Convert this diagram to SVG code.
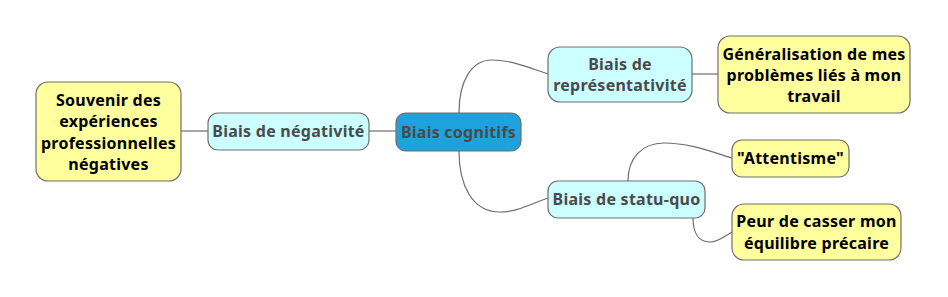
<svg xmlns="http://www.w3.org/2000/svg" width="948" height="297" viewBox="0 0 948 297">
<style>
.n{stroke:#6e6e6e;stroke-width:1.2}
.y{fill:#ffff9e}
.c{fill:#ccffff}
.r{fill:#1ea2dd}
text{font-family:"Noto Sans","Open Sans","DejaVu Sans",sans-serif;font-weight:bold;font-size:16px;letter-spacing:0.25px;text-anchor:middle}
.dk{fill:#000}
.gr{fill:#4a4a4a}
.e{fill:none;stroke:#6e6e6e;stroke-width:1.2}
</style>
<rect width="948" height="297" fill="#fff"/>
<g id="connectors">
<path class="e" d="M181,131 H208"/>
<path class="e" d="M369,131 H396"/>
<path class="e" d="M459,113 C459,80 472,60 492,60 C512,60 530,68 548,74"/>
<path class="e" d="M459,151 C459,185 472,212 500,212 C518,212 532,203 548,198"/>
<path class="e" d="M692,74 H718"/>
<path class="e" d="M628,181 C628,158 642,143 664,143 C690,143 712,152 732,158"/>
<path class="e" d="M693,218 C693,232 698,242 710,242 C718,242 725,236 732,232"/>
</g>
<g id="root">
<rect class="n r" x="396" y="113" width="125" height="38" rx="10"/>
<text class="gr" x="458.5" y="138">Biais cognitifs</text>
</g>
<g id="negativite">
<rect class="n c" x="208" y="113" width="161" height="37" rx="10"/>
<text class="gr" x="288.5" y="137">Biais de négativité</text>
</g>
<g id="souvenir">
<rect class="n y" x="36" y="82" width="145" height="99" rx="12"/>
<text class="dk" x="108.5" y="106">Souvenir des</text>
<text class="dk" x="108.5" y="127">expériences</text>
<text class="dk" x="108.5" y="149">professionnelles</text>
<text class="dk" x="108.5" y="170">négatives</text>
</g>
<g id="representativite">
<rect class="n c" x="548" y="47" width="144" height="55" rx="12"/>
<text class="gr" x="620" y="70">Biais de</text>
<text class="gr" x="620" y="91">représentativité</text>
</g>
<g id="generalisation">
<rect class="n y" x="718" y="36" width="192" height="77" rx="12"/>
<text class="dk" x="814" y="60">Généralisation de mes</text>
<text class="dk" x="814" y="81">problèmes liés à mon</text>
<text class="dk" x="814" y="102">travail</text>
</g>
<g id="statuquo">
<rect class="n c" x="548" y="181" width="157" height="37" rx="10"/>
<text class="gr" x="626.5" y="205">Biais de statu-quo</text>
</g>
<g id="attentisme">
<rect class="n y" x="732" y="140" width="117" height="37" rx="10"/>
<text class="dk" x="790.5" y="164">"Attentisme"</text>
</g>
<g id="peur">
<rect class="n y" x="732" y="204" width="169" height="56" rx="12"/>
<text class="dk" x="816.5" y="227">Peur de casser mon</text>
<text class="dk" x="816.5" y="249">équilibre précaire</text>
</g>
</svg>
